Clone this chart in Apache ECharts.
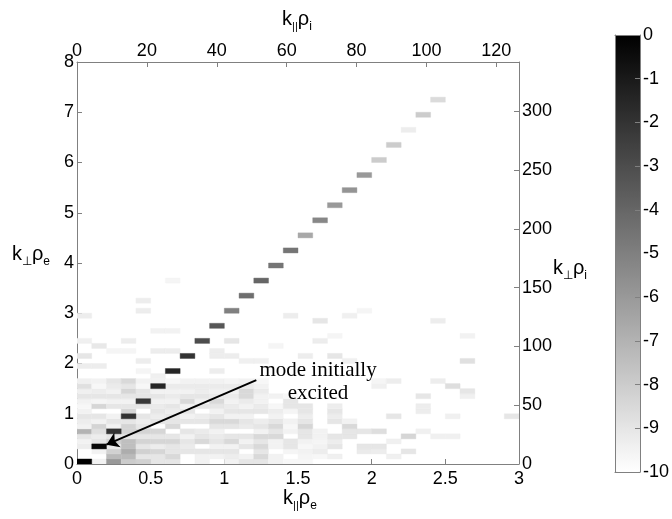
<!DOCTYPE html>
<html><head><meta charset="utf-8">
<script src="https://cdn.jsdelivr.net/npm/echarts@6/dist/echarts.min.js"></script>
<style>html,body{margin:0;padding:0;background:#fff}#main{width:672px;height:519px}</style>
</head><body><div id="main"></div>
<script>
// ---- axis ranges / ticks ----
const kParRangeE = [0, 3];      // bottom axis  k_par rho_e
const kPerpRangeE = [0, 8];     // left axis    k_perp rho_e
const kParRangeI = [0, 126.5];  // top axis     k_par rho_i
const kPerpRangeI = [0, 342];   // right axis   k_perp rho_i
const colorRange = [-10, 0];    // log10 amplitude
const CELL_DX = 0.1, CELL_DY = 0.1;

// ---- spectrum cells: diagonal cascade ----
const diagCols = [0,1,2,3,4,5,6,7,8,9,10,11,12,13,14,15,16,17,18,19,20,21,22,23,24];
const diagRows = [0,3,6,9,12,15,18,21,24,27,30,33,36,39,42,45,48,51,54,57,60,63,66,69,72];
const diagValues = [0,-0.3,-2.0,-2.0,-2.2,-1.5,-1.5,-2.0,-3.0,-3.4,-5.0,-4.3,-4.0,-4.6,-4.6,-6.6,-5.3,-6.0,-5.8,-6.0,-8.0,-8.0,-9.3,-8.0,-8.6];

// ---- low-k background field, one array per column (rows 0..16) ----
const fieldByColumn = [
  [-10,-10,-10,-9.3,-9.5,-9.0,-7.0,-9.5,-9.3,-9.0,-9.5,-9.7,-9.5,-9.0,-9.4,-8.8,-9.4],
  [-9.5,-10,-9.5,-10,-9.0,-9.3,-8.8,-8.3,-9.5,-9.0,-10,-8.4,-9.6,-9.0,-9.3,-9.7,-9.5],
  [-6.0,-7.3,-8.2,-9.2,-8.2,-9.0,-10,-9.5,-9.0,-9.5,-10,-9.0,-9.5,-9.0,-9.5,-9.2,-9.0],
  [-8.0,-7.3,-6.8,-7.5,-7.5,-9.0,-8.3,-8.3,-9.0,-10,-8.4,-9.0,-9.5,-9.0,-8.4,-9.0,-8.5],
  [-8.2,-9.0,-8.2,-9.0,-8.3,-9.0,-8.3,-9.0,-9.3,-9.0,-10,-9.0,-10,-9.0,-9.0,-9.7,-9.5],
  [-9.0,-9.0,-8.4,-9.3,-8.4,-9.0,-8.4,-10,-9.0,-9.3,-9.0,-9.2,-9.5,-9.0,-9.5,-10,-9.5],
  [-9.0,-8.5,-9.0,-9.0,-8.4,-9.0,-10,-8.5,-9.0,-9.0,-9.3,-9.0,-9.5,-9.2,-9.5,-9.2,-9.7],
  [-10,-10,-9.0,-9.2,-9.0,-9.5,-9.0,-10,-9.0,-9.5,-9.0,-9.5,-8.5,-9.0,-9.5,-9.2,-9.5],
  [-9.5,-9.5,-9.0,-10,-8.5,-9.0,-9.2,-10,-9.0,-9.3,-10,-9.0,-9.5,-9.0,-9.3,-9.2,-9.5],
  [-10,-9.5,-9.0,-9.5,-9.0,-9.2,-9.5,-9.0,-8.5,-9.0,-9.5,-9.0,-8.5,-9.2,-9.5,-9.2,-9.5],
  [-9.5,-9.3,-9.0,-9.5,-8.5,-9.0,-10,-9.0,-8.5,-9.5,-9.0,-9.2,-9.5,-9.2,-9.5,-9.2,-9.6],
  [-9.0,-9.5,-10,-9.0,-9.5,-9.0,-10,-9.2,-9.0,-9.5,-9.0,-9.5,-9.2,-8.5,-8.5,-9.2,-9.5],
  [-9.0,-8.5,-9.0,-8.5,-9.0,-8.5,-9.5,-9.0,-9.3,-10,-9.0,-9.2,-9.5,-9.5,-9.2,-9.5,-9.7],
  [-9.5,-9.5,-10,-9.5,-9.5,-8.5,-9.0,-8.5,-9.0,-9.5,-9.3,-9.7,-10,-9.5,-10,-10,-10],
  [-9.7,-10,-9.6,-9.0,-9.0,-10,-9.5,-9.7,-9.5,-10,-9.6,-9.0,-9.0,-9.7,-10,-10,-10],
  [-9.7,-9.6,-9.5,-9.7,-9.5,-9.0,-9.0,-8.4,-9.0,-9.3,-9.0,-9.0,-10,-10,-10,-10,-10],
  [-10,-9.7,-9.3,-9.5,-9.6,-9.5,-9.5,-10,-10,-10,-10,-10,-10,-10,-10,-10,-10],
  [-10,-9.4,-10,-9.0,-9.3,-9.0,-10,-10,-9.0,-9.3,-9.0,-9.3,-10,-10,-10,-10,-10],
  [-10,-10,-10,-10,-10,-9.0,-9.0,-8.5,-9.5,-10,-10,-10,-10,-10,-10,-10,-10],
  [-10,-10,-9.2,-9.0,-10,-10,-9.0,-10,-10,-10,-10,-10,-10,-10,-10,-10,-10]
];

// ---- scattered faint cells [col, row, value] ----
const sparseCells = [
  [0,19,-9.3],[0,21,-9.0],[0,24,-9.4],[0,29,-9.3],[1,19,-9.3],[1,23,-9.1],[2,22,-9.6],[3,22,-9.6],
  [3,24,-9.3],[4,18,-9.6],[4,20,-9.3],[4,30,-9.3],[4,32,-9.3],[5,17,-9.4],[5,22,-9.3],[5,26,-9.5],
  [6,22,-9.3],[6,26,-9.5],[6,36,-9.6],[9,18,-9.3],[9,21,-9.3],[9,22,-9.3],[10,21,-9.3],[10,24,-9.0],
  [11,20,-9.4],[12,20,-9.4],[13,23,-9.6],[14,29,-9.3],[15,21,-9.3],[16,24,-9.3],[16,28,-9.0],
  [17,21,-9.0],[17,25,-9.6],[18,20,-9.4],[18,29,-9.4],[19,30,-9.6],[20,2,-9.3],[20,3,-9.0],
  [20,6,-8.7],[20,15,-9.4],[20,16,-9.6],[21,1,-9.4],[21,4,-9.4],[21,9,-9.0],[21,16,-9.3],
  [22,2,-9.0],[22,5,-8.4],[23,6,-9.4],[23,10,-9.3],[23,11,-9.3],[23,13,-9.0],[24,5,-9.4],
  [24,16,-9.3],[24,28,-9.3],[25,5,-9.4],[25,9,-9.4],[25,15,-8.7],[26,13,-9.4],[26,14,-9.0],
  [26,20,-8.8],[26,25,-9.5],[29,9,-9.0]
];

// ---- annotation ----
const annotationText = 'mode initially\nexcited';
const annotationAt = [1.636, 1.64];
const arrowFrom = [1.217, 1.67];
const arrowTo = [0.2, 0.385];

// ---------------------------------------------------------------
const cells = [];
fieldByColumn.forEach(function (col, c) {
  col.forEach(function (v, r) { if (v > colorRange[0]) cells.push([c, r, v]); });
});
sparseCells.forEach(function (s) { cells.push(s); });
diagCols.forEach(function (c, i) { cells.push([c, diagRows[i], diagValues[i]]); });

const FONT = "'Liberation Sans', Arial, Helvetica, sans-serif";
const SERIF = "'Liberation Serif', 'Times New Roman', serif";
const AXIS_GRAY = '#808080';
const LABEL = { color: '#000', fontSize: 18, fontFamily: FONT };

function renderCell(params, api) {
  const c = api.value(0), r = api.value(1);
  const a = api.coord([c * CELL_DX, (r + 1) * CELL_DY]);
  const b = api.coord([(c + 1) * CELL_DX, r * CELL_DY]);
  const color = api.visual('color');
  return {
    type: 'rect',
    shape: { x: a[0], y: a[1], width: b[0] - a[0], height: b[1] - a[1] },
    style: { fill: color, stroke: color, lineWidth: 0.4 }
  };
}

function fmtEvery(step) {
  return function (v) { return Math.abs(v / step - Math.round(v / step)) < 1e-6 ? String(v) : ''; };
}

const rich = {
  m: { fontSize: 20, fontFamily: FONT, color: '#000', verticalAlign: 'top', lineHeight: 24 },
  s: { fontSize: 12, fontFamily: FONT, color: '#000', verticalAlign: 'top', lineHeight: 14, padding: [12, 0, 0, 0] },
  p: { fontSize: 11, fontFamily: FONT, color: '#000', verticalAlign: 'top', lineHeight: 14, padding: [12, 0, 0, 0] }
};
function axisTitle(x, y, text) {
  return { type: 'text', x: x, y: y, z: 100,
    style: { text: text, rich: rich, align: 'center', verticalAlign: 'middle', fill: '#000' } };
}

const chart = echarts.init(document.getElementById('main'), null, { renderer: 'canvas' });
chart.setOption({
  animation: false,
  backgroundColor: '#fff',
  grid: [
    { left: 77, top: 62, width: 442, height: 402, show: false },
    { left: 615, top: 35, width: 26, height: 437, show: false }
  ],
  xAxis: [
    { gridIndex: 0, type: 'value', position: 'bottom', min: kParRangeE[0], max: kParRangeE[1], interval: 0.5,
      axisLine: { show: true, onZero: false, lineStyle: { color: AXIS_GRAY, width: 1 } },
      axisTick: { show: true, inside: true, length: 5, lineStyle: { color: AXIS_GRAY } },
      axisLabel: Object.assign({ margin: 6 }, LABEL), splitLine: { show: false } },
    { gridIndex: 0, type: 'value', position: 'top', min: kParRangeI[0], max: kParRangeI[1], interval: 20,
      axisLine: { show: true, onZero: false, lineStyle: { color: AXIS_GRAY, width: 1 } },
      axisTick: { show: true, inside: true, length: 5, lineStyle: { color: AXIS_GRAY } },
      axisLabel: Object.assign({ margin: 2, showMaxLabel: false, formatter: fmtEvery(20) }, LABEL),
      splitLine: { show: false } },
    { gridIndex: 1, type: 'value', position: 'bottom', min: 0, max: 1, z: 10,
      axisLine: { show: true, onZero: false, lineStyle: { color: AXIS_GRAY, width: 1 } },
      axisTick: { show: false }, axisLabel: { show: false }, splitLine: { show: false } },
    { gridIndex: 1, type: 'value', position: 'top', min: 0, max: 1, z: 10,
      axisLine: { show: true, onZero: false, lineStyle: { color: AXIS_GRAY, width: 1 } },
      axisTick: { show: false }, axisLabel: { show: false }, splitLine: { show: false } }
  ],
  yAxis: [
    { gridIndex: 0, type: 'value', position: 'left', min: kPerpRangeE[0], max: kPerpRangeE[1], interval: 1,
      axisLine: { show: true, onZero: false, lineStyle: { color: AXIS_GRAY, width: 1 } },
      axisTick: { show: true, inside: true, length: 5, lineStyle: { color: AXIS_GRAY } },
      axisLabel: Object.assign({ margin: 3 }, LABEL), splitLine: { show: false } },
    { gridIndex: 0, type: 'value', position: 'right', min: kPerpRangeI[0], max: kPerpRangeI[1], interval: 50,
      axisLine: { show: true, onZero: false, lineStyle: { color: AXIS_GRAY, width: 1 } },
      axisTick: { show: true, inside: true, length: 5, lineStyle: { color: AXIS_GRAY } },
      axisLabel: Object.assign({ margin: 3, showMaxLabel: false, formatter: fmtEvery(50) }, LABEL),
      splitLine: { show: false } },
    { gridIndex: 1, type: 'value', position: 'left', min: colorRange[0], max: colorRange[1], z: 10,
      axisLine: { show: true, onZero: false, lineStyle: { color: AXIS_GRAY, width: 1 } },
      axisTick: { show: false }, axisLabel: { show: false }, splitLine: { show: false } },
    { gridIndex: 1, type: 'value', position: 'right', min: colorRange[0], max: colorRange[1], interval: 1, z: 10,
      axisLine: { show: true, onZero: false, lineStyle: { color: AXIS_GRAY, width: 1 } },
      axisTick: { show: true, inside: true, length: 5, lineStyle: { color: AXIS_GRAY } },
      axisLabel: Object.assign({ margin: 3 }, LABEL), splitLine: { show: false } }
  ],
  visualMap: {
    type: 'continuous', min: colorRange[0], max: colorRange[1], dimension: 2, seriesIndex: 0,
    orient: 'vertical', left: 615, top: 35, itemWidth: 26, itemHeight: 437, padding: 0,
    calculable: false, hoverLink: false, z: 1,
    inRange: { color: ['#ffffff', '#000000'] }
  },
  series: [
    { type: 'custom', xAxisIndex: 0, yAxisIndex: 0, data: cells, renderItem: renderCell,
      encode: { x: 0, y: 1 }, silent: true, clip: true },
    { type: 'line', xAxisIndex: 0, yAxisIndex: 0, data: [], silent: true,
      markLine: { silent: true, symbol: ['none', 'arrow'], symbolSize: 12, precision: 4,
        label: { show: false }, lineStyle: { color: '#000', width: 2, type: 'solid' },
        data: [[{ coord: arrowFrom }, { coord: arrowTo }]] },
      markPoint: { silent: true, symbol: 'rect', symbolSize: 1, itemStyle: { color: 'rgba(0,0,0,0)' },
        label: { show: true, position: 'inside', formatter: annotationText, color: '#000',
          fontFamily: SERIF, fontSize: 21, lineHeight: 23, align: 'center' },
        data: [{ coord: annotationAt }] } }
  ],
  graphic: [
    axisTitle(300, 500, '{m|k}{p|||}{m|ρ}{s|e}'),
    axisTitle(297, 21, '{m|k}{p|||}{m|ρ}{s|i}'),
    axisTitle(31, 256, '{m|k}{s|⊥}{m|ρ}{s|e}'),
    axisTitle(570, 270, '{m|k}{s|⊥}{m|ρ}{s|i}')
  ]
});
</script></body></html>
